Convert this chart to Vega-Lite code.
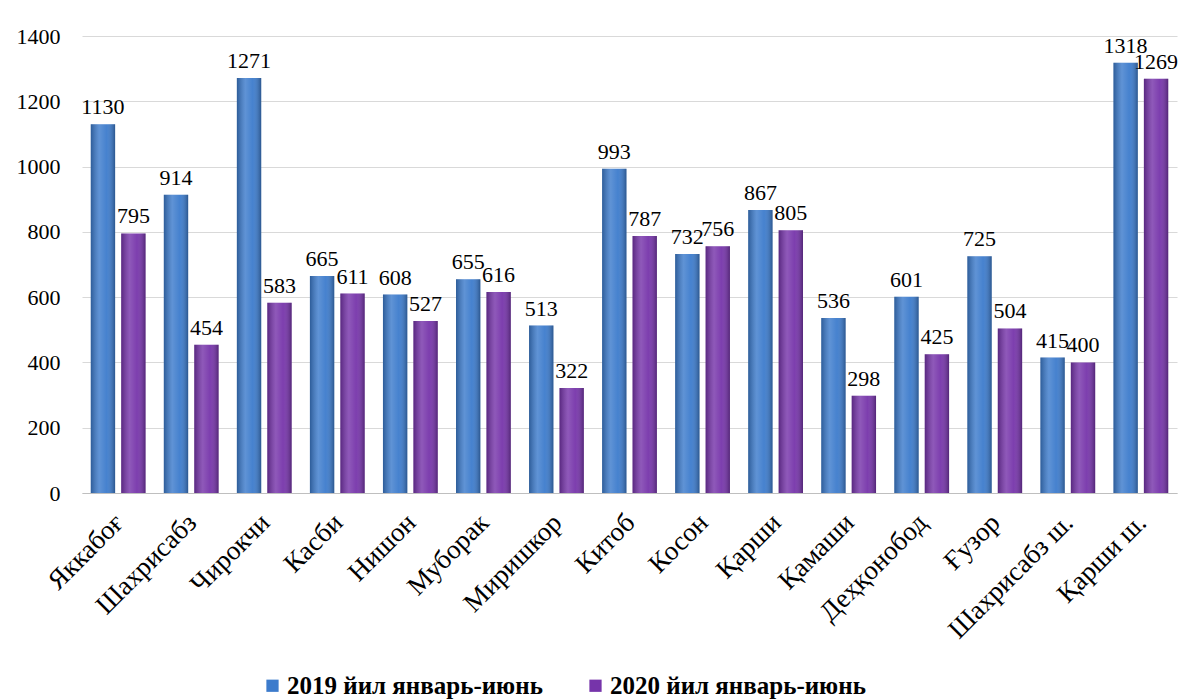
{
  "$schema": "https://vega.github.io/schema/vega-lite/v6.json",
  "autosize": "none",
  "padding": {"left": 82, "top": 36, "right": 21, "bottom": 207},
  "width": 1095,
  "height": 457,
  "background": "white",
  "config": {
    "font": "Liberation Serif",
    "view": {"stroke": null},
    "axis": {"labelFont": "Liberation Serif", "labelColor": "black"},
    "legend": {"labelFont": "Liberation Serif"},
    "text": {"font": "Liberation Serif"}
  },
  "data": {
    "values": [
      {"district": "Яккабоғ", "series": "2019 йил январь-июнь", "value": 1130},
      {"district": "Яккабоғ", "series": "2020 йил январь-июнь", "value": 795},
      {"district": "Шахрисабз", "series": "2019 йил январь-июнь", "value": 914},
      {"district": "Шахрисабз", "series": "2020 йил январь-июнь", "value": 454},
      {"district": "Чирокчи", "series": "2019 йил январь-июнь", "value": 1271},
      {"district": "Чирокчи", "series": "2020 йил январь-июнь", "value": 583},
      {"district": "Касби", "series": "2019 йил январь-июнь", "value": 665},
      {"district": "Касби", "series": "2020 йил январь-июнь", "value": 611},
      {"district": "Нишон", "series": "2019 йил январь-июнь", "value": 608},
      {"district": "Нишон", "series": "2020 йил январь-июнь", "value": 527},
      {"district": "Муборак", "series": "2019 йил январь-июнь", "value": 655},
      {"district": "Муборак", "series": "2020 йил январь-июнь", "value": 616},
      {"district": "Миришкор", "series": "2019 йил январь-июнь", "value": 513},
      {"district": "Миришкор", "series": "2020 йил январь-июнь", "value": 322},
      {"district": "Китоб", "series": "2019 йил январь-июнь", "value": 993},
      {"district": "Китоб", "series": "2020 йил январь-июнь", "value": 787},
      {"district": "Косон", "series": "2019 йил январь-июнь", "value": 732},
      {"district": "Косон", "series": "2020 йил январь-июнь", "value": 756},
      {"district": "Қарши", "series": "2019 йил январь-июнь", "value": 867},
      {"district": "Қарши", "series": "2020 йил январь-июнь", "value": 805},
      {"district": "Қамаши", "series": "2019 йил январь-июнь", "value": 536},
      {"district": "Қамаши", "series": "2020 йил январь-июнь", "value": 298},
      {"district": "Деҳқонобод", "series": "2019 йил январь-июнь", "value": 601},
      {"district": "Деҳқонобод", "series": "2020 йил январь-июнь", "value": 425},
      {"district": "Ғузор", "series": "2019 йил январь-июнь", "value": 725},
      {"district": "Ғузор", "series": "2020 йил январь-июнь", "value": 504},
      {"district": "Шахрисабз ш.", "series": "2019 йил январь-июнь", "value": 415},
      {"district": "Шахрисабз ш.", "series": "2020 йил январь-июнь", "value": 400},
      {"district": "Қарши ш.", "series": "2019 йил январь-июнь", "value": 1318},
      {"district": "Қарши ш.", "series": "2020 йил январь-июнь", "value": 1269}
    ]
  },
  "encoding": {
    "x": {
      "field": "district", "type": "nominal", "sort": null,
      "scale": {"paddingInner": 0.25, "paddingOuter": 0.12},
      "axis": {
        "title": null, "labelAngle": -45, "labelFontSize": 27,
        "labelPadding": 16, "labelOffset": -8, "ticks": false, "domainColor": "#bfbfbf", "domainWidth": 1
      }
    },
    "xOffset": {"field": "series", "type": "nominal", "scale": {"paddingInner": 0.2}},
    "y": {
      "field": "value", "type": "quantitative",
      "scale": {"domain": [0, 1400]},
      "axis": {
        "title": null, "values": [0, 200, 400, 600, 800, 1000, 1200, 1400], "format": "d",
        "labelFontSize": 22, "labelPadding": 22, "ticks": false, "domain": false,
        "gridColor": "#d9d9d9", "gridWidth": 1
      }
    }
  },
  "layer": [
    {
      "mark": {"type": "bar"},
      "encoding": {
        "color": {
          "field": "series", "type": "nominal",
          "scale": {"range": ["#3c7bcc", "#7634aa"]},
          "legend": {
            "title": null, "orient": "none", "direction": "horizontal",
            "legendX": 178, "legendY": 637,
            "labelFontSize": 25, "labelFontWeight": "bold", "labelFont": "Liberation Serif",
            "symbolType": "square", "symbolSize": 150, "symbolStrokeWidth": 0,
            "labelOffset": 2, "columnPadding": 40, "labelLimit": 400
          }
        }
      }
    },
    {
      "mark": {
        "type": "bar",
        "fill": {
          "gradient": "linear", "x1": 0, "x2": 1, "y1": 0, "y2": 0,
          "stops": [
            {"offset": 0, "color": "rgba(0,0,0,0.25)"},
            {"offset": 0.35, "color": "rgba(255,255,255,0.18)"},
            {"offset": 0.65, "color": "rgba(255,255,255,0.05)"},
            {"offset": 1, "color": "rgba(0,0,0,0.3)"}
          ]
        }
      }
    },
    {
      "mark": {"type": "text", "dy": -17, "fontSize": 22, "font": "Liberation Serif", "color": "black"},
      "encoding": {"text": {"field": "value", "type": "quantitative"}}
    }
  ]
}
